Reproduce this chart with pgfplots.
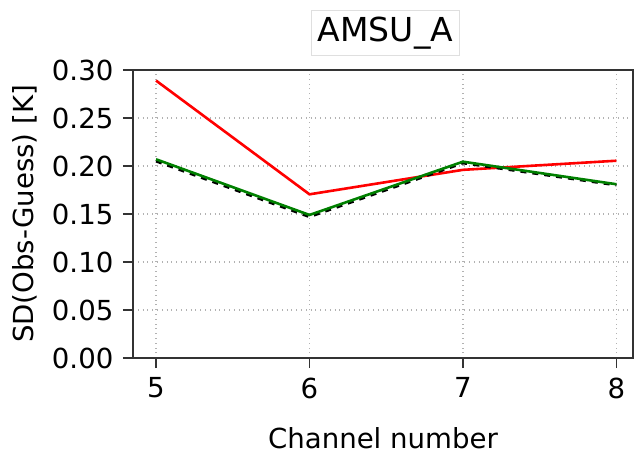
\documentclass[border=0pt]{standalone}
\usepackage{fontspec}
\setmainfont{DejaVu Sans}
\usepackage{pgfplots}
\pgfplotsset{compat=1.18}
\begin{document}
\fontsize{13.8pt}{16pt}\selectfont
\begin{tikzpicture}
\useasboundingbox (-66.5pt,-49pt) rectangle (253pt,179pt);
\begin{axis}[
  at={(0,0)}, anchor=south west,
  scale only axis, width=250pt, height=144pt,
  xmin=4.85, xmax=8.108, ymin=0, ymax=0.30,
  xtick={5,6,7,8}, ytick={0,0.05,0.10,0.15,0.20,0.25,0.30},
  yticklabel style={/pgf/number format/.cd, fixed, fixed zerofill, precision=2},
  /pgf/number format/assume math mode=true,
  tick align=outside, tick pos=left,
  major tick length=5pt,
  every tick/.style={black!80, line width=0.6pt},
  axis line style={black!80, line width=0.6pt},
  grid=major, grid style={dotted, gray!60, line width=0.6pt},
  xlabel={Channel number}, ylabel={SD(Obs-Guess) [K]},
  xlabel style={yshift=-5pt},
  ylabel style={yshift=-2pt},
  tick label style={font=\fontsize{13.8pt}{16pt}\selectfont},
  label style={font=\fontsize{13.8pt}{16pt}\selectfont},
  title={AMSU\_A},
  title style={draw=gray!25, fill=white, inner sep=3pt, at={(0.505,1)}, anchor=center, yshift=12.5pt, font=\fontsize{16.5pt}{19pt}\selectfont},
]
\addplot[red, line width=1.3pt] coordinates {(5,0.289) (6,0.1705) (7,0.196) (8,0.2055)};
\addplot[black, dashed, line width=1.3pt] coordinates {(5,0.205) (6,0.147) (7,0.203) (8,0.180)};
\addplot[green!50!black, line width=1.3pt] coordinates {(5,0.207) (6,0.149) (7,0.2045) (8,0.181)};
\end{axis}
\end{tikzpicture}
\end{document}
